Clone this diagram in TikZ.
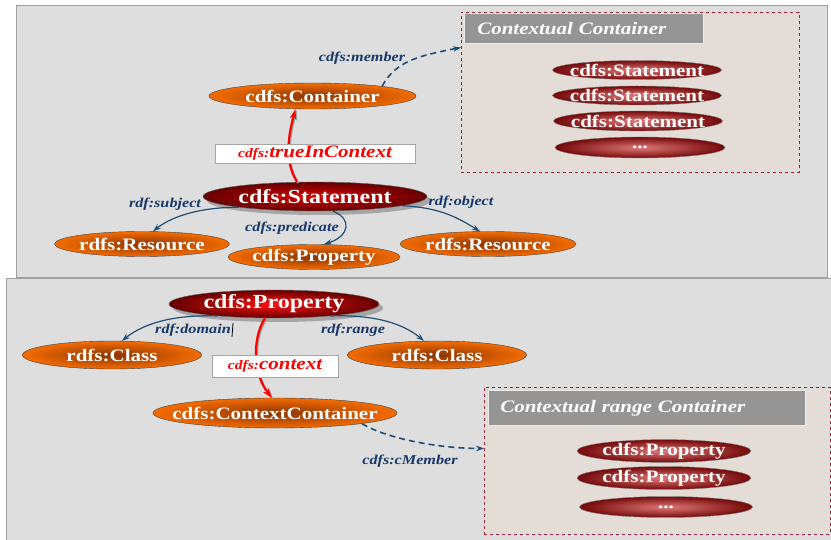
\documentclass[tikz,border=0pt]{standalone}
\usepackage{fontspec}
\setmainfont{Liberation Serif}
\newfontfamily\nf[FakeStretch=1.2]{Liberation Serif}
\usetikzlibrary{shapes.geometric,arrows.meta,shadows}
\newcommand\tx[1]{\makebox[0pt]{#1}}
\definecolor{panelfill}{HTML}{DEDEDE}
\definecolor{panelline}{HTML}{A0A0A0}
\definecolor{boxfill}{HTML}{E4DCD6}
\definecolor{boxline}{HTML}{9B2335}
\definecolor{hdrgray}{HTML}{959595}
\definecolor{orgin}{HTML}{8A3500}
\definecolor{orgout}{HTML}{F56C00}
\definecolor{redin}{HTML}{D80000}
\definecolor{redout}{HTML}{650000}
\definecolor{brin}{HTML}{FF1010}
\definecolor{stin}{HTML}{E07878}
\definecolor{stout}{HTML}{740808}
\definecolor{lineblue}{HTML}{1F4E79}
\definecolor{lblblue}{HTML}{16386A}
\tikzset{
  panel/.style={fill=panelfill, draw=panelline, line width=0.8pt},
  orangenode/.style={ellipse, draw=black!75, line width=0.4pt, inner color=orgin, outer color=orgout,
    text=white, font=\nf\bfseries\fontsize{17.5}{20}\selectfont, inner sep=0pt},
  bigred/.style={ellipse, draw=black!60, line width=0.4pt, inner color=redin, outer color=redout,
    drop shadow={shadow xshift=4pt, shadow yshift=-4pt, fill=gray!80, opacity=0.8},
    text=white, font=\nf\bfseries\fontsize{20}{23}\selectfont, inner sep=0pt},
  stacknode/.style={ellipse, draw=black!50, line width=0.4pt, inner color=stin, outer color=stout,
    text=white, font=\nf\bfseries\fontsize{17.5}{20}\selectfont, inner sep=0pt},
  cbox/.style={draw=boxline, dashed, line width=0.9pt, fill=boxfill, inner sep=0pt, anchor=north west},
  hdr/.style={fill=hdrgray, draw=white!85!gray, line width=0.6pt, text=white, anchor=north west,
    font=\nf\bfseries\itshape\fontsize{17.5}{20}\selectfont, inner ysep=0pt, align=left},
  lbl/.style={font=\nf\bfseries\itshape\fontsize{13.5}{15}\selectfont, text=lblblue, inner sep=0pt},
  redbox/.style={draw=gray!70, fill=white, line width=0.6pt, inner sep=0pt, text=red,
    font=\nf\bfseries\itshape},
  bl/.style={draw=lineblue, line width=1.2pt, -{Stealth[length=8pt,width=5.5pt]}},
  bld/.style={bl, line width=1.6pt, dash pattern=on 6pt off 4pt},
  rd/.style={draw=red, line width=2.2pt, -{Stealth[length=10pt,width=6.5pt]},
    preaction={draw=gray!75, line width=2pt, transform canvas={shift={(1.2pt,-1.2pt)}}}},
}
\begin{document}
\begin{tikzpicture}[x=1pt,y=-1pt]
\clip (0,0) rectangle (831,540);
% panels
\draw[panel] (16,5) rectangle (827,277);
\draw[panel] (6,278) rectangle (840,550);

% ---------- top panel ----------
\node[cbox, minimum width=338pt, minimum height=160pt] (cc) at (461,12) {};
\node[hdr, minimum height=30pt, text width=213pt, inner xsep=13pt] (cch) at (464,13) {Contextual Container};
\node[stacknode, minimum width=169pt, minimum height=19pt] (s1) at (637,70) {\tx{cdfs:Statement}};
\node[stacknode, minimum width=169pt, minimum height=19pt] (s2) at (637,95.5) {\tx{cdfs:Statement}};
\node[stacknode, minimum width=169pt, minimum height=20pt] (s3) at (638,121) {\tx{cdfs:Statement}};
\node[stacknode, minimum width=170pt, minimum height=21pt] (s4) at (640,147.5) {\tx{...}};

\node[orangenode, minimum width=207pt, minimum height=26pt] (cont) at (312.5,96) {\tx{cdfs:Container}};
\node[bigred, minimum width=224pt, minimum height=29pt] (st) at (315,196.5) {\tx{cdfs:Statement}};
\node[orangenode, minimum width=175pt, minimum height=25pt] (resL) at (142,244) {\tx{rdfs:Resource}};
\node[orangenode, minimum width=172pt, minimum height=25pt] (prop) at (314,257) {\tx{cdfs:Property}};
\node[orangenode, minimum width=176pt, minimum height=25pt] (resR) at (488,244) {\tx{rdfs:Resource}};

\draw[rd] ([xshift=-18pt]st.north) .. controls +(-14,-22) and +(-6,22) .. ([xshift=-17pt]cont.south);
\node[redbox, minimum width=200pt, minimum height=19pt] (tic) at (315,153.5)
  {{\fontsize{13}{15}\selectfont cdfs:}{\fontsize{17.5}{20}\selectfont trueInContext}};

\draw[bld] (cont.8) .. controls +(14,-26) and +(-40,8) .. ([yshift=45pt]cc.west);
\draw[bl] (st.188) .. controls +(-45,0) and +(15,-12) .. ([xshift=11pt]resL.north);
\draw[bl] ([xshift=18pt]st.south) .. controls +(20,8) and +(25,-8) .. ([xshift=10pt]prop.north);
\draw[bl] (st.354) .. controls +(40,2) and +(-20,-12) .. ([xshift=-8pt]resR.north);

\node[lbl] (lmember) at (362,58) {cdfs:member};
\node[lbl] (lsubj) at (165,204) {rdf:subject};
\node[lbl] (lpred) at (292,228) {cdfs:predicate};
\node[lbl] (lobj) at (461,202) {rdf:object};

% ---------- bottom panel ----------
\node[cbox, minimum width=346pt, minimum height=147pt] (crc) at (484,387) {};
\node[hdr, minimum height=35pt, text width=293pt, inner xsep=12pt] (crch) at (488,390) {Contextual range Container};
\node[stacknode, minimum width=174pt, minimum height=22pt] (p1) at (664,451) {\tx{cdfs:Property}};
\node[stacknode, minimum width=174pt, minimum height=23pt] (p2) at (664,478) {\tx{cdfs:Property}};
\node[stacknode, minimum width=173pt, minimum height=21pt] (p3) at (666,507) {\tx{...}};

\node[bigred, inner color=brin, minimum width=210pt, minimum height=28pt] (bp) at (274,304) {\tx{cdfs:Property}};
\node[orangenode, minimum width=179pt, minimum height=28pt] (cl) at (112,355) {\tx{rdfs:Class}};
\node[orangenode, minimum width=179pt, minimum height=28pt] (cr) at (437,355) {\tx{rdfs:Class}};
\node[orangenode, minimum width=244pt, minimum height=30pt] (ccn) at (275,413) {\tx{cdfs:ContextContainer}};

\draw[bl] (bp.192) .. controls +(-55,-2) and +(15,-12) .. ([xshift=10pt]cl.north);
\draw[bl] (bp.348) .. controls +(55,-2) and +(-15,-12) .. ([xshift=-13pt]cr.north);
\draw[rd] ([xshift=-9pt]bp.south) .. controls +(-14,22) and +(-18,-22) .. ([xshift=-3pt]ccn.north);
\node[redbox, minimum width=126pt, minimum height=22pt] (ctx) at (275,366)
  {{\fontsize{13}{15}\selectfont cdfs:}{\fontsize{17.5}{20}\selectfont context}};
\draw[bld] (ccn.353) .. controls +(25,15) and +(-45,0) .. ([yshift=12.5pt]crc.west);

\node[lbl] (ldom) at (193,330) {rdf:domain};
\draw[line width=0.8pt] ([xshift=2pt,yshift=7pt]ldom.east) -- ([xshift=1pt,yshift=-7pt]ldom.east);
\node[lbl] (lrange) at (353,330) {rdf:range};
\node[lbl] (lcm) at (410,461) {cdfs:cMember};
\end{tikzpicture}
\end{document}
